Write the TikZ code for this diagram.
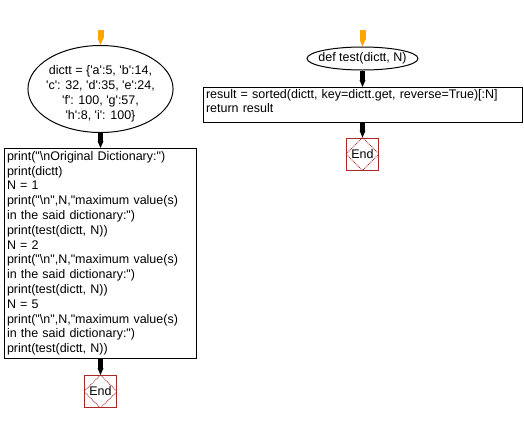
\documentclass[tikz,border=0pt]{standalone}
\usepackage{fontspec}
\newfontfamily\flowfont{Liberation Sans}
\usepackage{tikz}
\usetikzlibrary{arrows.meta,shapes.geometric,positioning}
\definecolor{endred}{RGB}{170,40,40}
\definecolor{startorange}{RGB}{255,165,0}
\newcommand\bsl{\textbackslash}
% lines of a block, moved up or down without changing the node size
\newcommand\flowlines[3]{\raisebox{#1}[\height][\depth]{\begin{tabular}{@{}#2@{}}#3\end{tabular}}}

\tikzset{
  flowtext/.style={font={\flowfont\fontsize{12.5}{15}\selectfont}},
  flow/.style={line width=5pt,-{Triangle[width=6pt,length=7pt,line width=0pt]}},
  startflow/.style={flow,line width=6pt,color=startorange},
  dictnode/.style={flowtext,draw,ellipse,line width=1pt,inner sep=0pt},
  codebox/.style={flowtext,draw,rectangle,line width=1pt,inner sep=2.5pt,align=left},
  endbox/.style={flowtext,draw=endred,rectangle,line width=1pt,minimum size=32pt,inner sep=0pt},
  endline/.style={endred,line width=.8pt,dash pattern=on .9pt off .9pt}
}

\begin{document}
\begin{tikzpicture}[x=1pt,y=-1pt]
\useasboundingbox (0,0) rectangle (524,424);

% left side
\coordinate (s1) at (100.5,30);
\node[dictnode,minimum width=145pt,minimum height=87pt,inner xsep=-3pt] (dict) at (100.5,89)
  {\flowlines{-4.5pt}{c}{dictt = \{'a':5, 'b':14,\\'c': 32, 'd':35, 'e':24,\\'f': 100, 'g':57,\\'h':8, 'i': 100\}}};
\node[codebox,minimum width=192.5pt,minimum height=210pt,text width=187pt,inner ysep=1pt,
  font={\flowfont\fontsize{12.5}{14.8}\selectfont}] (main) at (100.5,253.5)
  {\begin{tabular}{@{}l@{}}
   print("\bsl nOriginal Dictionary:")\\
   print(dictt)\\
   N = 1\\
   print("\bsl n",N,"maximum value(s)\\
   in the said dictionary:")\\
   print(test(dictt, N))\\
   N = 2\\
   print("\bsl n",N,"maximum value(s)\\
   in the said dictionary:")\\
   print(test(dictt, N))\\
   N = 5\\
   print("\bsl n",N,"maximum value(s)\\
   in the said dictionary:")\\
   print(test(dictt, N))
   \end{tabular}};
\node[endbox] (e1) at (100.5,391.5) {End};
\draw[endline] (e1.north) -- (e1.east) -- (e1.south) -- (e1.west) -- cycle;

\draw[startflow] (s1) -- (dict);
\draw[flow] (dict) -- (main);
\draw[flow] (main) -- (e1);

% right side
\coordinate (s2) at (362.5,30);
\node[dictnode,minimum width=111pt,minimum height=23pt,inner xsep=-5pt] (def) at (362.5,58.5) {def test(dictt, N)};
\node[codebox,minimum width=318pt,minimum height=34.5pt,text width=313pt,inner sep=3pt,
  font={\flowfont\fontsize{12.5}{14}\selectfont}] (body) at (362.5,104.75)
  {\flowlines{2pt}{l}{result = sorted(dictt, key=dictt.get, reverse=True)[:N]\\
   return result}};
\node[endbox] (e2) at (362.5,154) {End};
\draw[endline] (e2.north) -- (e2.east) -- (e2.south) -- (e2.west) -- cycle;

\draw[startflow] (s2) -- (def);
\draw[flow] (def) -- (body);
\draw[flow] (body) -- (e2);

\end{tikzpicture}
\end{document}
